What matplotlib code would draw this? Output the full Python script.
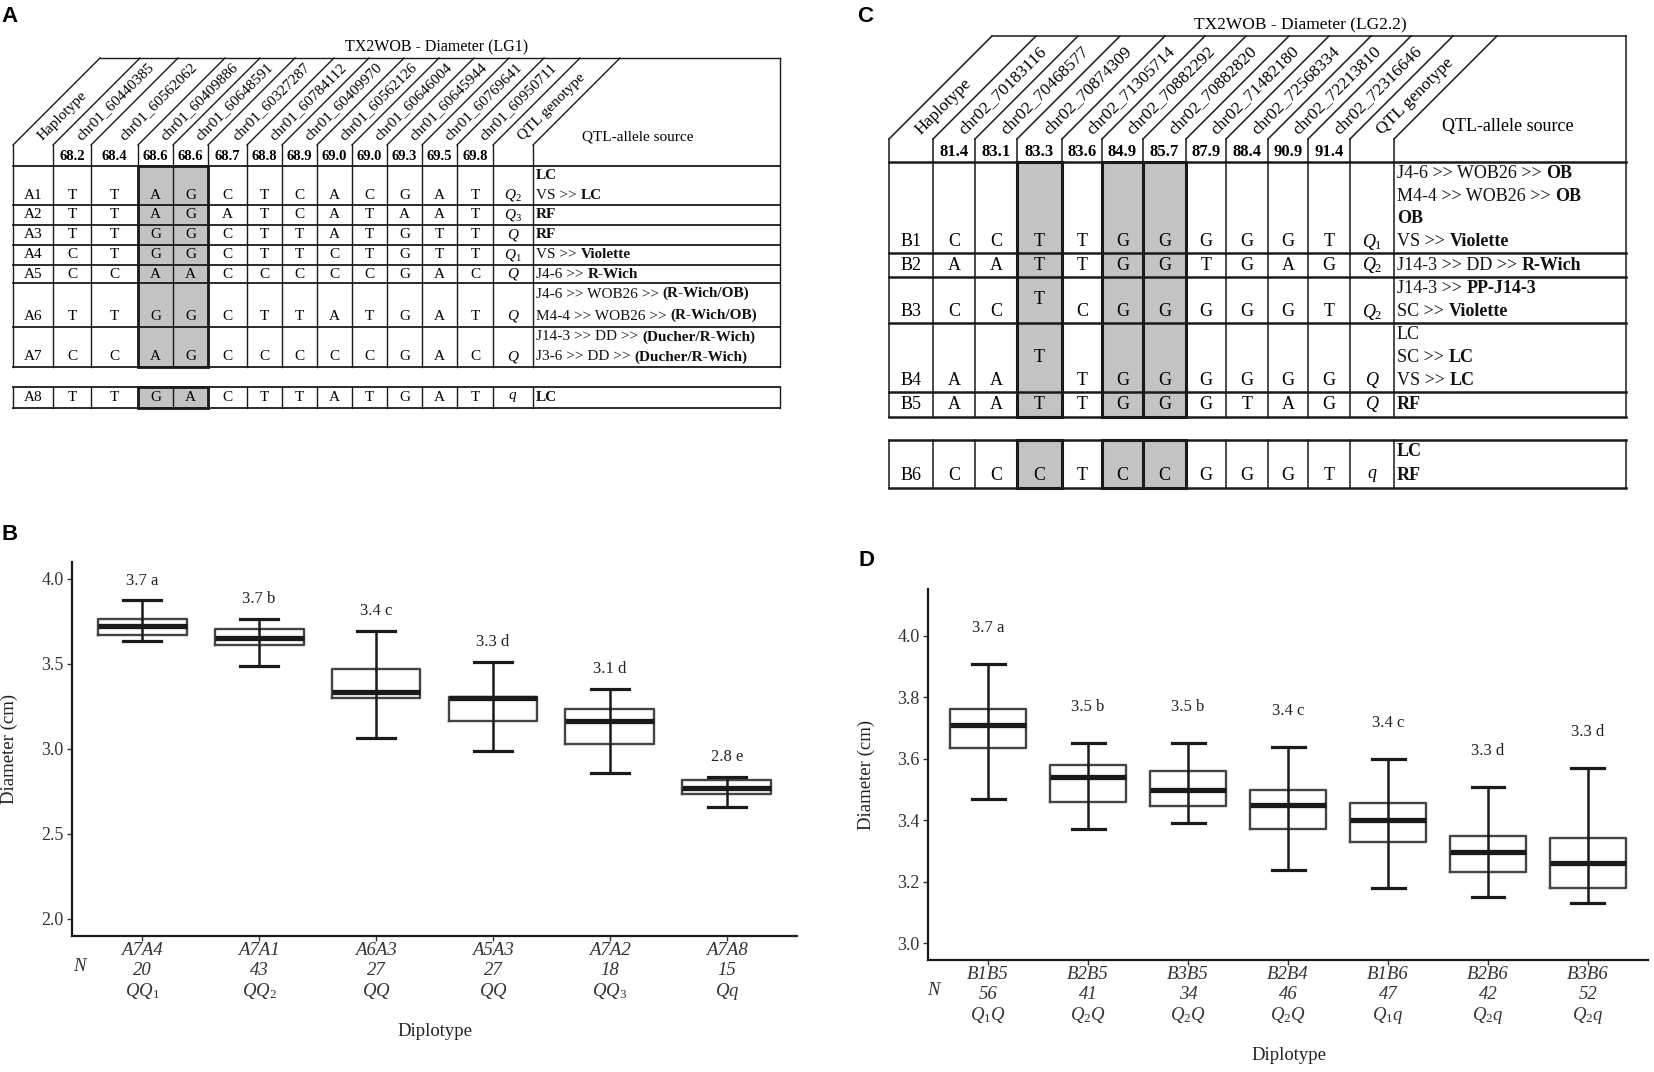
import re
import numpy as np
import matplotlib
matplotlib.use('Agg')
import matplotlib.pyplot as plt
from matplotlib.patches import Rectangle

plt.rcParams['font.family'] = 'Liberation Serif'
plt.rcParams['mathtext.fontset'] = 'custom'
plt.rcParams['mathtext.rm'] = 'Liberation Serif'
plt.rcParams['mathtext.it'] = 'Liberation Serif:italic'
plt.rcParams['mathtext.bf'] = 'Liberation Serif:bold'

#--panel A (LG1 haplotypes)
A_title   = 'TX2WOB - Diameter (LG1)'
A_markers = ['chr01_60440385','chr01_60562062','chr01_60409886','chr01_60648591',
             'chr01_60327287','chr01_60784112','chr01_60409970','chr01_60562126',
             'chr01_60646004','chr01_60645944','chr01_60769641','chr01_60950711']
A_pos     = [68.2,68.4,68.6,68.6,68.7,68.8,68.9,69.0,69.0,69.3,69.5,69.8]
A_hap     = ['A1','A2','A3','A4','A5','A6','A7','A8']
A_alleles = ['TTAGCTCACGAT','TTAGATCATAAT','TTGGCTTATGTT','CTGGCTTCTGTT',
             'CCAACCCCCGAC','TTGGCTTATGAT','CCAGCCCCCGAC','TTGACTTATGAT']
A_geno    = ['Q2','Q3','Q','Q1','Q','Q','Q','q']
A_source  = ['*LC*|VS >> *LC*', ' *RF*', '*RF*', 'VS >> *Violette*', 'J4-6 >> *R-Wich*',
             'J4-6 >> WOB26 >> *(R-Wich/OB)*|M4-4 >> WOB26 >> *(R-Wich/OB)*',
             'J14-3 >> DD >> *(Ducher/R-Wich)*|J3-6 >> DD >> *(Ducher/R-Wich)*',
             '*LC*']

#--panel C (LG2.2 haplotypes)
C_title   = 'TX2WOB - Diameter (LG2.2)'
C_markers = ['chr02_70183116','chr02_70468577','chr02_70874309','chr02_71305714',
             'chr02_70882292','chr02_70882820','chr02_71482180','chr02_72568334',
             'chr02_72213810','chr02_72316646']
C_pos     = [81.4,83.1,83.3,83.6,84.9,85.7,87.9,88.4,90.9,91.4]
C_hap     = ['B1','B2','B3','B4','B5','B6']
C_alleles = ['CCTTGGGGGT','AATTGGTGAG','CCTCGGGGGT','AATTGGGGGG','AATTGGGTAG','CCCTCCGGGT']
C_geno    = ['Q1','Q2','Q2','Q','Q','q']
C_source  = ['J4-6 >> WOB26 >> *OB*|M4-4 >> WOB26 >> *OB*|*OB*|VS >> *Violette*',
             'J14-3 >> DD >> *R-Wich*',
             'J14-3 >> *PP-J14-3*|SC >> *Violette*',
             'LC|SC >> *LC*|VS >> *LC*',
             '*RF*',
             '*LC*|*RF*']

#--panel B (LG1 diplotypes)
B_dip    = ['A7A4','A7A1','A6A3','A5A3','A7A2','A7A8']
B_n      = [20,43,27,27,18,15]
B_geno   = ['QQ1','QQ2','QQ','QQ','QQ3','Qq']
B_lab    = ['3.7 a','3.7 b','3.4 c','3.3 d','3.1 d','2.8 e']
B_whislo = [3.636,3.489,3.067,2.988,2.860,2.657]
B_q1     = [3.669,3.613,3.300,3.164,3.028,2.734]
B_med    = [3.723,3.655,3.334,3.300,3.162,2.771]
B_q3     = [3.762,3.704,3.468,3.307,3.235,2.817]
B_whishi = [3.874,3.764,3.694,3.514,3.354,2.837]

#--panel D (LG2.2 diplotypes)
D_dip    = ['B1B5','B2B5','B3B5','B2B4','B1B6','B2B6','B3B6']
D_n      = [56,41,34,46,47,42,52]
D_geno   = ['Q1Q','Q2Q','Q2Q','Q2Q','Q1q','Q2q','Q2q']
D_lab    = ['3.7 a','3.5 b','3.5 b','3.4 c','3.4 c','3.3 d','3.3 d']
D_whislo = [3.470,3.371,3.391,3.240,3.180,3.152,3.131]
D_q1     = [3.636,3.460,3.448,3.373,3.329,3.232,3.180]
D_med    = [3.710,3.541,3.498,3.450,3.402,3.296,3.260]
D_q3     = [3.762,3.581,3.559,3.498,3.457,3.349,3.341]
D_whishi = [3.909,3.650,3.650,3.639,3.600,3.508,3.569]

W, H = 1654, 1072
ink  = '#1a1a1a'
gray = '#c3c3c3'


def gtex(g):
    return '$' + re.sub(r'(\d)', r'_{\\mathit{\1}}', g) + '$'


def rich(ax, x, y, s, fs):
    #--mixed regular/bold text, bold parts between *...*
    parts = s.split('*')
    prev, gap = None, 0
    for k, p in enumerate(parts):
        if p.strip() == '':
            if p: gap = 1
            continue
        if p.startswith(' ') and prev is not None: gap = 1
        w = 'bold' if k % 2 else 'normal'
        if prev is None:
            prev = ax.text(x, y, p.strip(), fontsize=fs, weight=w, ha='left', va='center', color='#111')
        else:
            prev = ax.annotate(p.strip(), xy=(1, 0), xycoords=prev, xytext=(gap*fs*0.25, 0),
                               textcoords='offset points', fontsize=fs, weight=w,
                               ha='left', va='bottom', color='#111')
        gap = 1 if p.endswith(' ') else 0


def table(ax, cols, ytop, yslant, ydata, groups, shade, markers, pos, hap, alleles, geno,
          source, fs, nfs, lfs, lw, rlw, slw, title, tx, tfs, sx, sy, mid=()):
    d = yslant - ytop
    nc = len(cols)
    gbot = groups[0][0][-1]
    kw = dict(color=ink, lw=lw)
    #--header
    for i in range(nc-1):
        ax.plot([cols[i], cols[i]+d], [yslant, ytop], **kw)
        ax.plot([cols[i], cols[i]], [yslant, gbot], **kw)
    ax.plot([cols[0]+d, cols[-1]], [ytop, ytop], **kw)
    ax.plot([cols[-1], cols[-1]], [ytop, gbot], **kw)
    ax.text(tx, ytop-11, title, ha='center', va='center', fontsize=tfs)
    strips = [('Haplotype', 0)] + [(m, j+1) for j, m in enumerate(markers)] + [('QTL genotype', nc-3)]
    for lab, i in strips:
        xc = 0.5*(cols[i]+cols[i+1])
        ax.text(xc+7, yslant-7, lab, rotation=45, rotation_mode='anchor',
                ha='left', va='center', fontsize=lfs)
    for j, p in enumerate(pos):
        ax.text(0.5*(cols[j+1]+cols[j+2]), 0.5*(yslant+ydata)+1, '%.1f' % p,
                ha='center', va='center', fontsize=nfs, weight='bold')
    ax.text(sx, sy, 'QTL-allele source', ha='center', va='center', fontsize=fs)
    #--body
    for gi, (edges, nlines, rows) in enumerate(groups):
        for e in edges:
            ax.plot([cols[0], cols[-1]], [e, e], color=ink, lw=rlw)
        if gi > 0:
            for c in cols:
                ax.plot([c, c], [edges[0], edges[-1]], **kw)
        for c0, c1 in shade:
            x0, x1 = cols[c0+1], cols[c1+2]
            ax.add_patch(Rectangle((x0, edges[0]), x1-x0, edges[-1]-edges[0], fc=gray, ec='none', zorder=0))
            ax.add_patch(Rectangle((x0, edges[0]), x1-x0, edges[-1]-edges[0], fill=False, ec=ink, lw=slw, zorder=3))
        for k, r in enumerate(rows):
            top, bot, n = edges[k], edges[k+1], nlines[k]
            pitch = (bot-top)/n
            yl = bot - pitch/2
            ax.text(0.5*(cols[0]+cols[1]), yl, hap[r], ha='center', va='center', fontsize=fs)
            for j, a in enumerate(alleles[r]):
                y = 0.5*(top+bot) if (r, j) in mid else yl
                ax.text(0.5*(cols[j+1]+cols[j+2]), y, a, ha='center', va='center', fontsize=fs, zorder=4)
            ax.text(0.5*(cols[-3]+cols[-2]), yl, gtex(geno[r]), ha='center', va='center', fontsize=fs)
            for li, line in enumerate(source[r].split('|')):
                rich(ax, cols[-2]+3, top + pitch*(li+0.5), line, fs)


def boxes(ax, dip, n, geno, lab, whislo, q1, med, q3, whishi, nx):
    pos = np.arange(1, len(dip)+1)
    stats = [dict(med=med[i], q1=q1[i], q3=q3[i], whislo=whislo[i], whishi=whishi[i], fliers=[])
             for i in range(len(dip))]
    ax.vlines(pos, q1, q3, color=ink, lw=1.8, zorder=1)
    ax.bxp(stats, positions=pos, widths=0.76, capwidths=0.33, showfliers=False, manage_ticks=False,
           boxprops=dict(color='#444444', lw=1.7),
           whiskerprops=dict(color=ink, lw=1.8),
           capprops=dict(color=ink, lw=2.3),
           medianprops=dict(color=ink, lw=3.8, solid_capstyle='butt'))
    for i, p in enumerate(pos):
        ax.text(p, whishi[i]+0.117, lab[i], ha='center', va='center', fontsize=12, color='#222')
        for row, (s, st) in enumerate([(dip[i], 'italic'), (str(n[i]), 'italic'), (gtex(geno[i]), 'normal')]):
            ax.annotate(s, xy=(p, 0), xycoords=('data', 'axes fraction'), xytext=(0, -[10.1, 24.5, 39.6][row]),
                        textcoords='offset points', ha='center', va='center', fontsize=13.5,
                        style=st, color='#333', annotation_clip=False)
    ax.annotate('N', xy=(nx, 0), xycoords='axes fraction', xytext=(0, -22.3), textcoords='offset points',
                ha='center', va='center', fontsize=13.5, style='italic', color='#333', annotation_clip=False)
    ax.set_xticks(pos)
    ax.set_xticklabels([])
    ax.set_xlim(0.4, len(dip)+0.6)
    for s in ['top', 'right']:
        ax.spines[s].set_visible(False)
    for s in ['left', 'bottom']:
        ax.spines[s].set_linewidth(1.6)
        ax.spines[s].set_color(ink)
    ax.tick_params(axis='both', direction='out', length=3.5, width=1.0, color='#333',
                   labelsize=13, labelcolor='#333', pad=2.5)
    ax.set_facecolor('none')


def px(l, t, r, b):
    return [l/W, 1-b/H, (r-l)/W, (b-t)/H]


def plot():
    fig = plt.figure(figsize=(W/100, H/100), dpi=100)
    ax0 = fig.add_axes([0, 0, 1, 1])
    ax0.set_xlim(0, W)
    ax0.set_ylim(H, 0)
    ax0.axis('off')

    #--table A
    A_cols = [13, 53, 91, 138, 173, 208, 247, 282, 317, 352, 387, 422, 457, 493, 533, 780]
    A_groups = [([166, 205, 225, 245, 265, 283, 327, 367], [2, 1, 1, 1, 1, 2, 2], [0, 1, 2, 3, 4, 5, 6]),
                ([387, 408], [1], [7])]
    table(ax0, A_cols, 58, 145, 166, A_groups, [(2, 3)], A_markers, A_pos, A_hap, A_alleles,
          A_geno, A_source, fs=11, nfs=10.5, lfs=11, lw=1.0, rlw=1.3, slw=2.0,
          title=A_title, tx=437, tfs=11.5, sx=638, sy=137)

    #--table C
    C_cols = [889, 933, 975, 1017, 1062, 1102, 1143, 1186, 1226, 1268, 1308, 1350, 1394, 1626]
    C_groups = [([162, 253, 277, 323, 392, 417], [4, 1, 2, 3, 1], [0, 1, 2, 3, 4]),
                ([440, 488], [2], [5])]
    table(ax0, C_cols, 36, 139, 162, C_groups, [(2, 2), (4, 4), (5, 5)], C_markers, C_pos, C_hap,
          C_alleles, C_geno, C_source, fs=13, nfs=12, lfs=12.5, lw=1.1, rlw=1.8, slw=2.2,
          title=C_title, tx=1300, tfs=12.5, sx=1508, sy=127, mid=[(2, 2), (3, 2)])

    #--panel letters and axis titles
    for lab, x, y in [('A', 10, 17), ('B', 10, 535), ('C', 865, 17), ('D', 866, 560)]:
        ax0.text(x, y, lab, ha='center', va='center', fontsize=16, weight='bold', family='Liberation Sans')
    ax0.text(9, 749, 'Diameter (cm)', rotation=90, ha='center', va='center', fontsize=13.5, color='#222')
    ax0.text(866, 775, 'Diameter (cm)', rotation=90, ha='center', va='center', fontsize=13.5, color='#222')
    ax0.text(435, 1031, 'Diplotype', ha='center', va='center', fontsize=13.5, color='#222')
    ax0.text(1289, 1055, 'Diplotype', ha='center', va='center', fontsize=13.5, color='#222')

    #--panel B
    axB = fig.add_axes(px(72, 562, 797, 936))
    boxes(axB, B_dip, B_n, B_geno, B_lab, B_whislo, B_q1, B_med, B_q3, B_whishi, nx=0.01)
    axB.set_ylim(1.9, 4.1)
    axB.set_yticks([2.0, 2.5, 3.0, 3.5, 4.0])
    axB.set_yticklabels(['%.1f' % v for v in [2.0, 2.5, 3.0, 3.5, 4.0]])

    #--panel D
    axD = fig.add_axes(px(928, 589, 1648, 960))
    boxes(axD, D_dip, D_n, D_geno, D_lab, D_whislo, D_q1, D_med, D_q3, D_whishi, nx=0.007)
    axD.set_ylim(2.946, 4.152)
    axD.set_yticks([3.0, 3.2, 3.4, 3.6, 3.8, 4.0])
    axD.set_yticklabels(['%.1f' % v for v in [3.0, 3.2, 3.4, 3.6, 3.8, 4.0]])

    fig.savefig('out.png', dpi=100, facecolor='white')
    print('Saving figure to out.png')


if __name__ == "__main__":
    plot()
